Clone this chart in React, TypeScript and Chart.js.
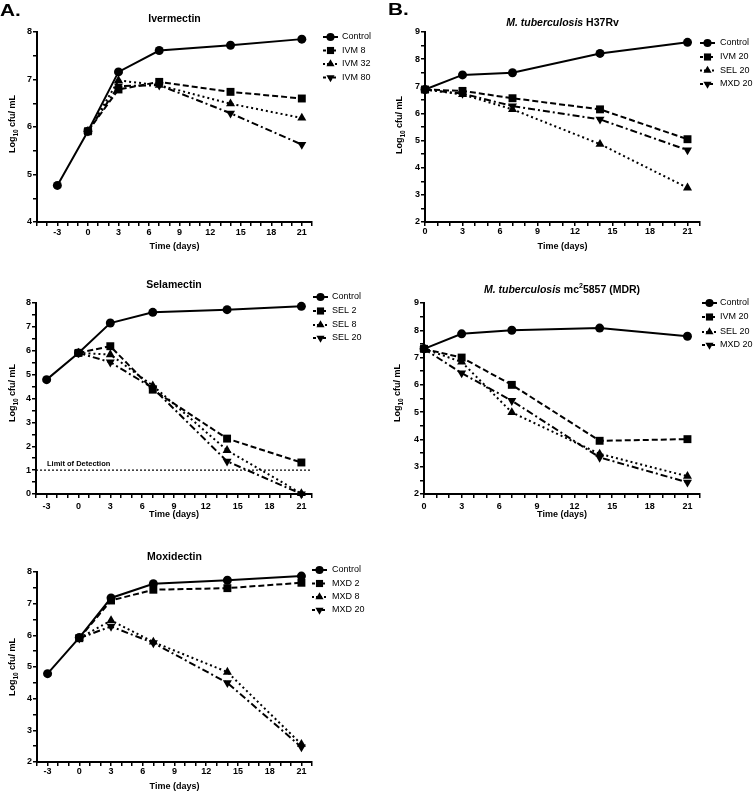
import React, { useEffect, useRef } from 'react';
import { Chart, registerables } from 'chart.js';
Chart.register(...registerables);

const FONT = '"Liberation Sans", Arial, Helvetica, sans-serif';

// ---------- DATA ----------
const ctrlDays = [-3, 0, 3, 7, 14, 21];
const trtDays = [0, 3, 7, 14, 21];
const mtbDays = [0, 3, 7, 14, 21];

// Ivermectin panel
const ivmControl = [4.77, 5.91, 7.16, 7.61, 7.72, 7.85];
const ivm8 = [5.91, 6.79, 6.95, 6.74, 6.6];
const ivm32 = [5.91, 6.98, 6.88, 6.49, 6.19];
const ivm80 = [5.91, 6.86, 6.88, 6.29, 5.63];

// Selamectin panel
const selControl = [4.79, 5.91, 7.16, 7.61, 7.72, 7.86];
const sel2 = [5.91, 6.19, 4.37, 2.32, 1.32];
const sel8 = [5.91, 5.84, 4.54, 1.83, 0.02];
const sel20 = [5.91, 5.52, 4.44, 1.37, 0.0];

// Moxidectin panel
const mxdControl = [4.79, 5.93, 7.18, 7.63, 7.74, 7.87];
const mxd2 = [5.91, 7.1, 7.44, 7.49, 7.66];
const mxd8 = [5.91, 6.47, 5.79, 4.84, 2.56];
const mxd20 = [5.91, 6.28, 5.76, 4.5, 2.47];

// M. tuberculosis H37Rv
const h37Control = [6.88, 7.42, 7.5, 8.21, 8.62];
const h37Ivm20 = [6.88, 6.83, 6.56, 6.15, 5.05];
const h37Sel20 = [6.88, 6.7, 6.15, 4.87, 3.26];
const h37Mxd20 = [6.88, 6.73, 6.27, 5.78, 4.65];

// M. tuberculosis mc2 5857 (MDR)
const mdrControl = [7.32, 7.87, 8.0, 8.08, 7.78];
const mdrIvm20 = [7.32, 7.0, 6.0, 3.95, 4.01];
const mdrSel20 = [7.32, 6.84, 4.99, 3.47, 2.65];
const mdrMxd20 = [7.32, 6.43, 5.42, 3.34, 2.43];

const limitOfDetection = 1;

// ---------- STYLES ----------
const STYLES = [
  { dash: [], shape: 'circle', radius: 4.5, rotation: 0 },
  { dash: [6, 3], shape: 'rect', radius: 5.6, rotation: 0 },
  { dash: [2, 3], shape: 'triangle', radius: 5.2, rotation: 0 },
  { dash: [7, 3, 2, 3], shape: 'triangle', radius: 5.2, rotation: 180 },
];

type Seg = { text: string; italic?: boolean; sup?: boolean };
type Series = { label: string; xs: number[]; ys: number[]; style: number };
type PanelCfg = {
  left: number; top: number; width: number; height: number;
  plot: { l: number; t: number; r: number; b: number };
  xMin: number; xMax: number; yMin: number; yMax: number;
  title: Seg[]; titleY: number;
  legendX: number; legendTextX: number; legendYs: number[];
  xTitleY: number; yTitleX: number; yTitleY: number;
  xTickPad: number;
  letter?: { text: string; x: number; y: number };
  lod?: number;
  series: Series[];
};

const Y_AXIS_W = 30;
const X_AXIS_H = 20;

function drawMarker(ctx: CanvasRenderingContext2D, shape: string, r: number, rot: number, x: number, y: number) {
  ctx.save();
  ctx.setLineDash([]);
  ctx.fillStyle = '#000';
  ctx.beginPath();
  if (shape === 'circle') {
    ctx.arc(x, y, r, 0, Math.PI * 2);
  } else if (shape === 'rect') {
    const s = r * Math.SQRT1_2;
    ctx.rect(x - s, y - s, 2 * s, 2 * s);
  } else {
    const dir = rot === 180 ? -1 : 1;
    ctx.moveTo(x, y - dir * r);
    ctx.lineTo(x + r * Math.sin(Math.PI * 2 / 3), y + dir * r * 0.5);
    ctx.lineTo(x - r * Math.sin(Math.PI * 2 / 3), y + dir * r * 0.5);
    ctx.closePath();
  }
  ctx.fill();
  ctx.restore();
}

function Panel({ cfg }: { cfg: PanelCfg }) {
  const ref = useRef<HTMLCanvasElement>(null);
  useEffect(() => {
    const canvas = ref.current!;
    const xTicks: number[] = [];
    for (let v = cfg.xMin; v <= cfg.xMax + 1e-9; v += 1) xTicks.push(v);
    const yTicks: number[] = [];
    for (let v = cfg.yMin; v <= cfg.yMax + 1e-9; v += 0.5) yTicks.push(v);

    const textPlugin = {
      id: 'panelText',
      beforeDatasetsDraw(chart: any) {
        if (cfg.lod === undefined) return;
        const ctx = chart.ctx as CanvasRenderingContext2D;
        const ys = chart.scales.y.getPixelForValue(cfg.lod);
        const a = chart.chartArea;
        ctx.save();
        ctx.strokeStyle = '#000';
        ctx.lineWidth = 1.2;
        ctx.setLineDash([2, 2]);
        ctx.beginPath();
        ctx.moveTo(a.left, ys);
        ctx.lineTo(a.right, ys);
        ctx.stroke();
        ctx.setLineDash([]);
        ctx.fillStyle = '#000';
        ctx.font = `bold 7.5px ${FONT}`;
        ctx.textAlign = 'left';
        ctx.textBaseline = 'alphabetic';
        ctx.fillText('Limit of Detection', a.left + 11, ys - 4);
        ctx.restore();
      },
      afterDraw(chart: any) {
        const ctx = chart.ctx as CanvasRenderingContext2D;
        const a = chart.chartArea;
        const cx = (a.left + a.right) / 2;
        ctx.save();
        ctx.fillStyle = '#000';
        ctx.strokeStyle = '#000';
        // title
        const fontFor = (s: Seg) => `${s.italic ? 'italic ' : ''}bold ${s.sup ? 7 : 10.5}px ${FONT}`;
        let total = 0;
        for (const s of cfg.title) { ctx.font = fontFor(s); total += ctx.measureText(s.text).width; }
        let tx = cx - total / 2;
        ctx.textAlign = 'left';
        ctx.textBaseline = 'middle';
        for (const s of cfg.title) {
          ctx.font = fontFor(s);
          ctx.fillText(s.text, tx, cfg.titleY - (s.sup ? 4 : 0));
          tx += ctx.measureText(s.text).width;
        }
        // x title
        ctx.font = `bold 9px ${FONT}`;
        ctx.textAlign = 'center';
        ctx.fillText('Time (days)', cx, cfg.xTitleY);
        // y title
        ctx.save();
        ctx.translate(cfg.yTitleX, cfg.yTitleY);
        ctx.rotate(-Math.PI / 2);
        const p1 = 'Log', p2 = '10', p3 = ' cfu/ mL';
        ctx.font = `bold 9px ${FONT}`;
        const w1 = ctx.measureText(p1).width;
        const w3 = ctx.measureText(p3).width;
        ctx.font = `bold 6.5px ${FONT}`;
        const w2 = ctx.measureText(p2).width;
        let yx = -(w1 + w2 + w3) / 2;
        ctx.textAlign = 'left';
        ctx.font = `bold 9px ${FONT}`;
        ctx.fillText(p1, yx, 0); yx += w1;
        ctx.font = `bold 6.5px ${FONT}`;
        ctx.fillText(p2, yx, 3); yx += w2;
        ctx.font = `bold 9px ${FONT}`;
        ctx.fillText(p3, yx, 0);
        ctx.restore();
        // legend
        cfg.series.forEach((s, i) => {
          const st = STYLES[s.style];
          const ly = cfg.legendYs[i];
          ctx.save();
          ctx.lineWidth = 2;
          ctx.setLineDash(st.dash.length ? [3, 2] : []);
          if (s.style === 2) ctx.setLineDash([2, 2]);
          ctx.beginPath();
          ctx.moveTo(cfg.legendX, ly);
          ctx.lineTo(cfg.legendX + 15, ly);
          ctx.stroke();
          ctx.restore();
          drawMarker(ctx, st.shape, st.radius * 0.9, st.rotation, cfg.legendX + 7.5, ly);
          ctx.font = `9px ${FONT}`;
          ctx.textAlign = 'left';
          ctx.textBaseline = 'middle';
          ctx.fillText(s.label, cfg.legendTextX, ly);
        });
        // panel letter
        if (cfg.letter) {
          ctx.save();
          ctx.translate(cfg.letter.x, cfg.letter.y);
          ctx.scale(1.3, 1);
          ctx.font = `bold 16px ${FONT}`;
          ctx.textAlign = 'left';
          ctx.textBaseline = 'alphabetic';
          ctx.fillText(cfg.letter.text, 0, 0);
          ctx.restore();
        }
        ctx.restore();
      },
    };

    const chart = new Chart(canvas, {
      type: 'line',
      data: {
        datasets: cfg.series.map((s) => {
          const st = STYLES[s.style];
          return {
            label: s.label,
            data: s.xs.map((x, i) => ({ x, y: s.ys[i] })),
            borderColor: '#000',
            backgroundColor: '#000',
            borderWidth: 2,
            borderDash: st.dash,
            pointStyle: st.shape,
            pointRadius: st.radius,
            pointRotation: st.rotation,
            pointBorderWidth: 0,
            pointBackgroundColor: '#000',
            tension: 0,
            fill: false,
            clip: false as any,
          };
        }),
      },
      options: {
        animation: false,
        responsive: false,
        devicePixelRatio: 1,
        events: [],
        layout: {
          padding: {
            left: cfg.plot.l - Y_AXIS_W,
            top: cfg.plot.t,
            right: cfg.width - cfg.plot.r,
            bottom: cfg.height - cfg.plot.b - X_AXIS_H,
          },
        },
        plugins: { legend: { display: false }, title: { display: false }, tooltip: { enabled: false } },
        scales: {
          x: {
            type: 'linear',
            min: cfg.xMin,
            max: cfg.xMax,
            afterBuildTicks: (sc: any) => { sc.ticks = xTicks.map((value) => ({ value })); },
            afterFit: (sc: any) => { sc.height = X_AXIS_H; },
            ticks: {
              autoSkip: false,
              maxRotation: 0,
              padding: cfg.xTickPad,
              color: '#000',
              font: { family: FONT, size: 9, weight: 'bold' },
              callback: (v: any) => (Math.round(v) % 3 === 0 ? String(Math.round(v)) : ''),
            },
            grid: { drawOnChartArea: false, drawTicks: true, tickLength: 4, color: '#000', lineWidth: 1.5 },
            border: { display: true, color: '#000', width: 2 },
          },
          y: {
            type: 'linear',
            min: cfg.yMin,
            max: cfg.yMax,
            afterBuildTicks: (sc: any) => { sc.ticks = yTicks.map((value) => ({ value })); },
            afterFit: (sc: any) => { sc.width = Y_AXIS_W; },
            ticks: {
              autoSkip: false,
              padding: 1,
              color: '#000',
              font: { family: FONT, size: 9, weight: 'bold' },
              callback: (v: any) => (Number.isInteger(v) ? String(v) : ''),
            },
            grid: { drawOnChartArea: false, drawTicks: true, tickLength: 4, color: '#000', lineWidth: 1.5 },
            border: { display: true, color: '#000', width: 2 },
          },
        },
      } as any,
      plugins: [textPlugin],
    });
    return () => chart.destroy();
  }, [cfg]);
  return (
    <canvas
      ref={ref}
      width={cfg.width}
      height={cfg.height}
      style={{ position: 'absolute', left: cfg.left, top: cfg.top, width: cfg.width, height: cfg.height }}
    />
  );
}

const PANELS: PanelCfg[] = [
  {
    left: 0, top: 0, width: 377, height: 260,
    plot: { l: 37, t: 32, r: 312, b: 222 },
    xMin: -5, xMax: 22, yMin: 4, yMax: 8,
    title: [{ text: 'Ivermectin' }], titleY: 19,
    legendX: 323, legendTextX: 342, legendYs: [37, 50.5, 64, 77.5],
    xTitleY: 247, yTitleX: 13, yTitleY: 124, xTickPad: 1,
    letter: { text: 'A.', x: 0, y: 16 },
    series: [
      { label: 'Control', xs: ctrlDays, ys: ivmControl, style: 0 },
      { label: 'IVM 8', xs: trtDays, ys: ivm8, style: 1 },
      { label: 'IVM 32', xs: trtDays, ys: ivm32, style: 2 },
      { label: 'IVM 80', xs: trtDays, ys: ivm80, style: 3 },
    ],
  },
  {
    left: 0, top: 260, width: 377, height: 270,
    plot: { l: 36, t: 43, r: 312, b: 234 },
    xMin: -4, xMax: 22, yMin: 0, yMax: 8,
    title: [{ text: 'Selamectin' }], titleY: 25,
    legendX: 313, legendTextX: 332, legendYs: [37, 51, 65, 78],
    xTitleY: 255, yTitleX: 13, yTitleY: 133, xTickPad: 3,
    lod: limitOfDetection,
    series: [
      { label: 'Control', xs: ctrlDays, ys: selControl, style: 0 },
      { label: 'SEL 2', xs: trtDays, ys: sel2, style: 1 },
      { label: 'SEL 8', xs: trtDays, ys: sel8, style: 2 },
      { label: 'SEL 20', xs: trtDays, ys: sel20, style: 3 },
    ],
  },
  {
    left: 0, top: 520, width: 377, height: 272,
    plot: { l: 37, t: 52, r: 312, b: 242 },
    xMin: -4, xMax: 22, yMin: 2, yMax: 8,
    title: [{ text: 'Moxidectin' }], titleY: 37,
    legendX: 312, legendTextX: 332, legendYs: [50, 63.5, 77, 90],
    xTitleY: 267, yTitleX: 13, yTitleY: 147, xTickPad: 0,
    series: [
      { label: 'Control', xs: ctrlDays, ys: mxdControl, style: 0 },
      { label: 'MXD 2', xs: trtDays, ys: mxd2, style: 1 },
      { label: 'MXD 8', xs: trtDays, ys: mxd8, style: 2 },
      { label: 'MXD 20', xs: trtDays, ys: mxd20, style: 3 },
    ],
  },
  {
    left: 377, top: 0, width: 377, height: 260,
    plot: { l: 48, t: 32, r: 323, b: 222 },
    xMin: 0, xMax: 22, yMin: 2, yMax: 9,
    title: [{ text: 'M. tuberculosis', italic: true }, { text: ' H37Rv' }], titleY: 23,
    legendX: 323, legendTextX: 343, legendYs: [43, 57, 70.5, 84],
    xTitleY: 247, yTitleX: 23, yTitleY: 125, xTickPad: 0,
    letter: { text: 'B.', x: 11, y: 15 },
    series: [
      { label: 'Control', xs: mtbDays, ys: h37Control, style: 0 },
      { label: 'IVM 20', xs: mtbDays, ys: h37Ivm20, style: 1 },
      { label: 'SEL 20', xs: mtbDays, ys: h37Sel20, style: 2 },
      { label: 'MXD 20', xs: mtbDays, ys: h37Mxd20, style: 3 },
    ],
  },
  {
    left: 377, top: 260, width: 377, height: 270,
    plot: { l: 47, t: 43, r: 323, b: 234 },
    xMin: 0, xMax: 22, yMin: 2, yMax: 9,
    title: [
      { text: 'M. tuberculosis', italic: true },
      { text: ' mc' },
      { text: '2', sup: true },
      { text: '5857 (MDR)' },
    ],
    titleY: 30,
    legendX: 325, legendTextX: 343, legendYs: [43, 57, 72, 85],
    xTitleY: 255, yTitleX: 21, yTitleY: 133, xTickPad: 3,
    series: [
      { label: 'Control', xs: mtbDays, ys: mdrControl, style: 0 },
      { label: 'IVM 20', xs: mtbDays, ys: mdrIvm20, style: 1 },
      { label: 'SEL 20', xs: mtbDays, ys: mdrSel20, style: 2 },
      { label: 'MXD 20', xs: mtbDays, ys: mdrMxd20, style: 3 },
    ],
  },
];

export default function App() {
  return (
    <div style={{ position: 'absolute', left: 0, top: 0, width: 754, height: 792, background: '#fff', overflow: 'hidden' }}>
      {PANELS.map((p, i) => (
        <Panel key={i} cfg={p} />
      ))}
    </div>
  );
}
